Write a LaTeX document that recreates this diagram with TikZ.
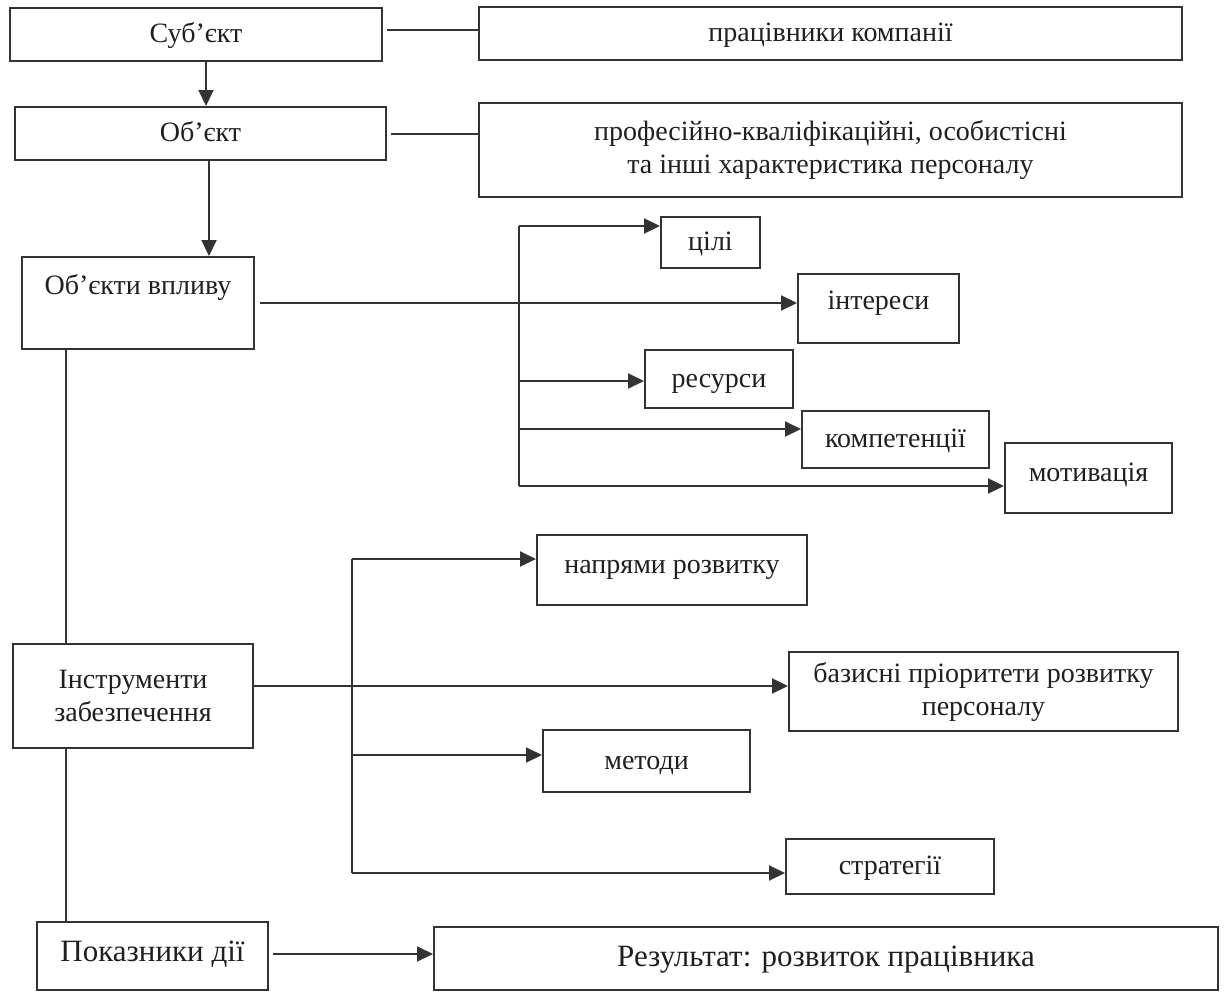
\documentclass[tikz,border=0pt]{standalone}
\usepackage{fontspec}
\setmainfont{Liberation Serif}
\usetikzlibrary{arrows.meta,positioning}

\begin{document}
\begin{tikzpicture}[x=1pt,y=-1pt,font=\fontsize{28}{33}\selectfont\frenchspacing,text=black!88,
  box/.style={draw=black!80,line width=2pt,align=center,inner sep=0pt},
  sbox/.style={box,text height=16pt,text depth=0pt},
  tbox/.style n args={2}{box,anchor=north,text height=#1,text depth=#2},
  link/.style={draw=black!80,line width=2pt},
  arr/.style={link,-{Triangle[length=16pt,width=15pt]}}]
\useasboundingbox (0,0) rectangle (1224,991);
% left column
\node[sbox,minimum width=372pt,minimum height=53pt] (subj) at (196,34.5) {Суб’єкт};
\node[sbox,minimum width=371pt,minimum height=53pt] (obj) at (200.5,133.5) {Об’єкт};
\node[tbox={37pt}{55pt},minimum width=232pt] (infl) at (138,256) {Об’єкти впливу};
\node[box,minimum width=240pt,minimum height=104pt] (tools) at (133,696) {Інструменти\\забезпечення};
\node[tbox={39pt}{29pt},minimum width=231pt,font=\fontsize{31}{36}\selectfont] (ind) at (152.5,921) {Показники дії};
% right column
\node[sbox,minimum width=703pt,minimum height=53pt] (staff) at (830.5,33.5) {працівники компанії};
\node[box,minimum width=703pt,minimum height=94pt] (chars) at (830.5,150) {професійно-кваліфікаційні, особистісні\\та інші характеристика персоналу};
\node[sbox,minimum width=99pt,minimum height=51pt] (goals) at (710.5,242.5) {цілі};
\node[tbox={35pt}{34pt},minimum width=161pt] (intr) at (878.5,273) {інтереси};
\node[sbox,minimum width=148pt,minimum height=58pt] (res) at (719,379) {ресурси};
\node[sbox,minimum width=187pt,minimum height=57pt] (comp) at (895.5,439.5) {компетенції};
\node[tbox={38pt}{32pt},minimum width=167pt] (motiv) at (1088.5,442) {мотивація};
\node[tbox={38pt}{32pt},minimum width=270pt] (dirs) at (672,534) {напрями розвитку};
\node[box,minimum width=389pt,minimum height=79pt] (prior) at (983.5,691.5) {базисні пріоритети розвитку\\персоналу};
\node[sbox,minimum width=207pt,minimum height=62pt] (meth) at (646.5,761) {методи};
\node[sbox,minimum width=208pt,minimum height=55pt] (strat) at (890,866.5) {стратегії};
\node[tbox={39pt}{24pt},minimum width=784pt,font=\fontsize{31}{36}\selectfont] (result) at (826,926) {Результат: розвиток працівника};
% connectors
\draw[link,shorten <=4pt] ([yshift=5pt]subj.east) -- ([yshift=5pt]subj.east -| staff.west);
\draw[link,shorten <=4pt] (obj.east) -- (obj.east -| chars.west);
\draw[arr] ([xshift=10pt]subj.south) -- ([xshift=10pt]subj.south |- obj.north);
\draw[arr] ([xshift=8.5pt]obj.south) -- ([xshift=8.5pt]obj.south |- infl.north);
\draw[arr,shorten <=5pt] (infl.east) -- (infl.east -| intr.west);
\draw[link] ([xshift=-72pt]infl.south) -- ([xshift=-72pt]infl.south |- tools.north);
\draw[link] ([xshift=-67pt]tools.south) -- ([xshift=-67pt]tools.south |- ind.north);
\draw[arr] ([yshift=10pt]tools.east) -- ([yshift=10pt]tools.east -| prior.west);
\draw[arr,shorten <=4pt] ([yshift=2pt]ind.east) -- ([yshift=2pt]ind.east -| result.west);
\foreach \n/\y [count=\i] in {goals/226,res/381,comp/429,motiv/486}{
  \coordinate (p\i) at (519,\y);
  \draw[arr] (p\i) -- (p\i -| \n.west);}
\draw[link] (p1) -- (p4);
\foreach \n/\y [count=\i] in {dirs/559,meth/755,strat/873}{
  \coordinate (q\i) at (352,\y);
  \draw[arr] (q\i) -- (q\i -| \n.west);}
\draw[link] (q1) -- (q3);
\end{tikzpicture}
\end{document}
